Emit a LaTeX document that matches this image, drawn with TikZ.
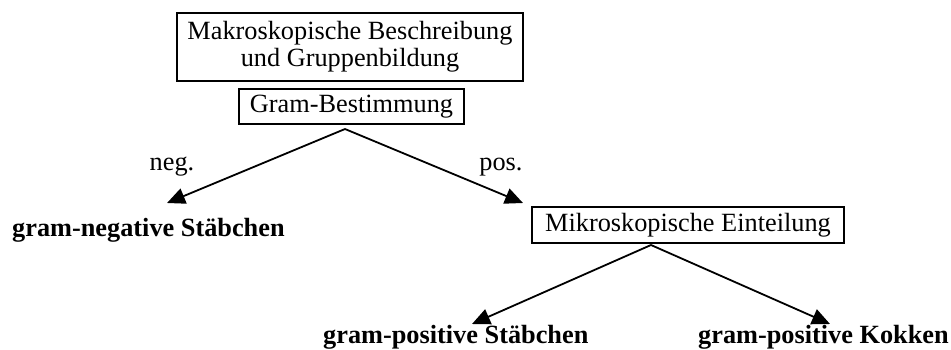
\documentclass[tikz,border=0pt]{standalone}
\usepackage{fontspec}
\setmainfont{Liberation Serif}
\usetikzlibrary{arrows.meta}
\begin{document}
\begin{tikzpicture}[x=1pt,y=-1pt,
  every node/.style={font=\fontsize{26.3}{27}\selectfont, inner sep=0pt},
  box/.style={draw, line width=1.8pt, align=center},
  leaf/.style={font=\fontsize{26.3}{27}\selectfont\bfseries, anchor=base west},
  lbl/.style={anchor=base},
  conn/.style={line width=1.8pt, -{Triangle[length=18pt,width=16pt]}}]
\useasboundingbox (0,0) rectangle (951,349);
\node[box, minimum width=346pt, minimum height=68pt] (makro) at (350,47) {Makroskopische Beschreibung\\und Gruppenbildung};
\node[box, minimum width=225pt, minimum height=35pt] (gram) at (351.5,106.5) {Gram-Bestimmung};
\coordinate (a1) at (345,129);
\coordinate (t1) at (167,203);
\coordinate (t2) at (523,203);
\node[lbl] (neg) at (172,170) {neg.};
\node[lbl] (pos) at (501,170) {pos.};
\node[leaf] (gneg) at (12,236) {gram-negative Stäbchen};
\node[box, minimum width=312pt, minimum height=36pt] (mikro) at (688,225) {Mikroskopische Einteilung};
\coordinate (a2) at (651,245);
\coordinate (t3) at (472,324);
\coordinate (t4) at (830,324);
\node[leaf] (gpst) at (323,343) {gram-positive Stäbchen};
\node[leaf] (gpko) at (698,343) {gram-positive Kokken};
\draw[conn] (a1) -- (t1);
\draw[conn] (a1) -- (t2);
\draw[conn] (a2) -- (t3);
\draw[conn] (a2) -- (t4);
\end{tikzpicture}
\end{document}
